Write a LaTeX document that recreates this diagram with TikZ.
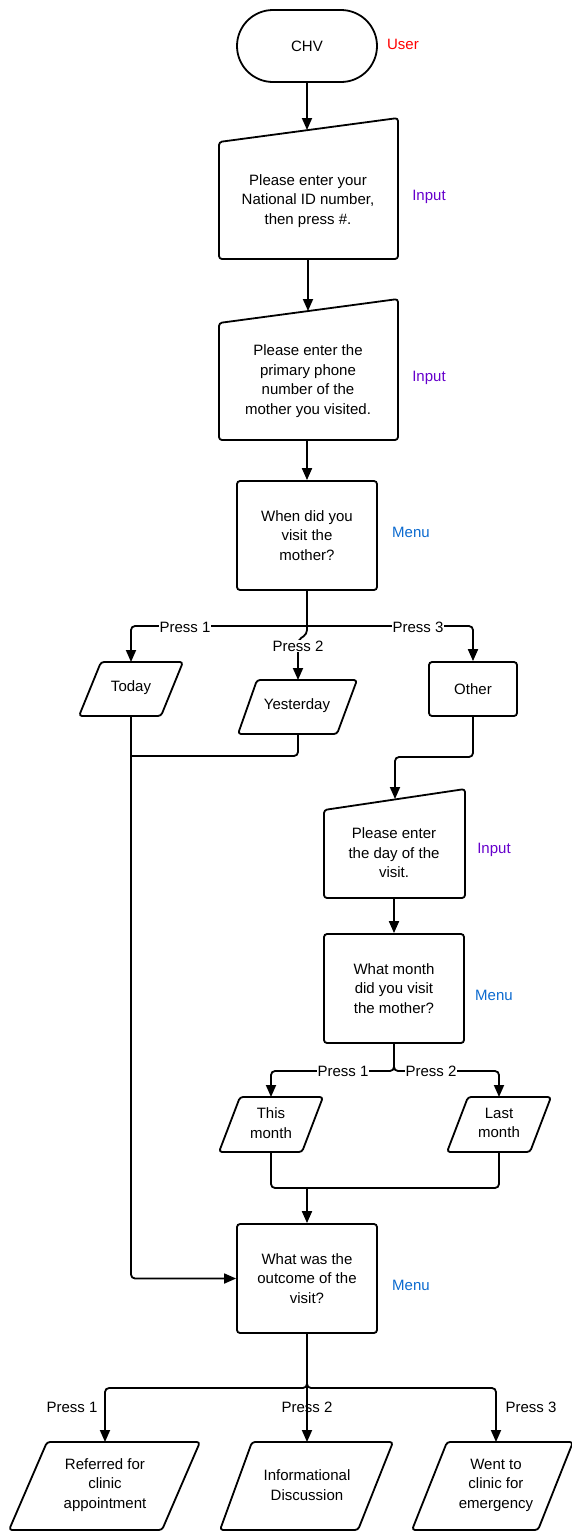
\documentclass[tikz,border=0pt]{standalone}
\usepackage{fontspec}
\setmainfont{Liberation Sans}
\usetikzlibrary{arrows.meta}
\definecolor{userc}{HTML}{FF0000}
\definecolor{inputc}{HTML}{6600CC}
\definecolor{menuc}{HTML}{0B6ACF}
\begin{document}
\begin{tikzpicture}[x=1pt,y=-1pt,
  lbl/.style={font=\fontsize{15}{19.5}\selectfont, align=center, inner sep=1pt},
  shp/.style={draw, line width=1.8pt, rounded corners=3pt, line join=round},
  box/.style={draw, line width=1.8pt, rounded corners=3pt, minimum width=140pt, minimum height=109pt, lbl},
  conn/.style={line width=1.8pt, -{Triangle[length=12pt,width=10pt]}, rounded corners=4pt},
  plain/.style={line width=1.8pt, rounded corners=4pt},
  tag/.style={font=\fontsize{15}{17}\selectfont, fill=white, inner sep=1pt},
  side/.style={font=\fontsize{15}{17}\selectfont, inner sep=1pt},
]
\useasboundingbox (0,0) rectangle (572,1532);

% CHV
\node[draw, line width=1.8pt, rounded corners=36pt, minimum width=140pt, minimum height=72pt, lbl] (chv) at (307,46) {CHV};
\node[side, text=userc] (user) at (403,44) {User};

% Input 1
\draw[shp] (219,142) -- (398,118) -- (398,259) -- (219,259) -- cycle;
\node[lbl] (in1) at (308,201) {Please enter your\\National ID number,\\then press \#.};
\coordinate (in1top) at (307,130);
\coordinate (in1bot) at (308,259);
\node[side, text=inputc] (tin1) at (429,197) {Input};

% Input 2
\draw[shp] (219,323) -- (398,299) -- (398,440) -- (219,440) -- cycle;
\node[lbl] (in2) at (308,381) {Please enter the\\primary phone\\number of the\\mother you visited.};
\coordinate (in2top) at (308,311);
\coordinate (in2bot) at (307,440);
\node[side, text=inputc] (tin2) at (429,378) {Input};

% Menu 1
\node[box] (m1) at (307,535.5) {When did you\\visit the\\mother?};
\node[side, text=menuc] (tm1) at (411,532) {Menu};

% Today / Yesterday / Other
\draw[shp] (101,662) -- (183,662) -- (161,716) -- (79,716) -- cycle;
\node[lbl] (today) at (131,688) {Today};
\coordinate (todaytop) at (131,662);
\coordinate (todaybot) at (131,716);
\draw[shp] (257,680) -- (357,680) -- (337,734) -- (238,734) -- cycle;
\node[lbl] (yest) at (297,706) {Yesterday};
\coordinate (yesttop) at (298,680);
\coordinate (yestbot) at (298,734);
\node[draw, line width=1.8pt, rounded corners=3pt, minimum width=88pt, minimum height=54pt, lbl] (oth) at (473,689) {Other};

% Input 3
\draw[shp] (324,810) -- (465,789) -- (465,898) -- (324,898) -- cycle;
\node[lbl] (in3) at (394,853) {Please enter\\the day of the\\visit.};
\coordinate (in3top) at (395,799);
\coordinate (in3bot) at (394,898);
\node[side, text=inputc] (tin3) at (494,850) {Input};

% Menu 2
\node[box] (m2) at (394,988.5) {What month\\did you visit\\the mother?};
\node[side, text=menuc] (tm2) at (494,995) {Menu};

% This month / Last month
\draw[shp] (240,1097) -- (323,1097) -- (302,1152) -- (219,1152) -- cycle;
\node[lbl] (thism) at (271,1123) {This\\month};
\coordinate (thistop) at (271,1097);
\coordinate (thisbot) at (271,1152);
\draw[shp] (468,1097) -- (551,1097) -- (530,1152) -- (447,1152) -- cycle;
\node[lbl] (lastm) at (499,1123) {Last\\month};
\coordinate (lasttop) at (499,1097);
\coordinate (lastbot) at (499,1152);

% Outcome
\node[box] (out) at (307,1278.5) {What was the\\outcome of the\\visit?};
\node[side, text=menuc] (tm3) at (411,1285) {Menu};

% Bottom outcomes
\draw[shp] (47,1442) -- (200,1442) -- (162,1530) -- (9,1530) -- cycle;
\node[lbl] (ref) at (105,1485) {Referred for\\clinic\\appointment};
\coordinate (reftop) at (105,1442);
\draw[shp] (252,1442) -- (393,1442) -- (358,1530) -- (220,1530) -- cycle;
\node[lbl] (info) at (307,1485) {Informational\\Discussion};
\coordinate (infotop) at (307,1442);
\draw[shp] (447,1442) -- (573,1442) -- (538,1530) -- (412,1530) -- cycle;
\node[lbl] (emer) at (496,1485) {Went to\\clinic for\\emergency};
\coordinate (emertop) at (496,1442);

% Connectors
\draw[conn] (chv.south) -- (in1top);
\draw[conn] (in1bot) -- (in2top);
\draw[conn] (in2bot) -- (m1.north);

\coordinate (j1) at (307,626);
\draw[plain] (m1.south) -- (j1);
\draw[conn] (j1) -| (todaytop);
\draw[conn] (j1) -| (oth.north);
\draw[conn] (j1) -- (307,634) -- (298,640) -- (yesttop);
\node[tag] (p11) at (185,627) {Press 1};
\node[tag] (p13) at (418,627) {Press 3};
\node[tag] (p12) at (298,646) {Press 2};

\draw[conn] (todaybot) |- (out.west);
\draw[plain] (yestbot) |- (131,756);
\draw[conn] (oth.south) |- (395,757) -- (in3top);

\draw[conn] (in3bot) -- (m2.north);
\draw[conn] (m2.south) |- (271,1071) -- (thistop);
\draw[conn] (m2.south) |- (499,1071) -- (lasttop);
\node[tag] (p21) at (343,1071) {Press 1};
\node[tag] (p22) at (431,1071) {Press 2};

\draw[plain] (thisbot) |- (499,1188) -- (lastbot);
\draw[conn] (307,1188) -- (out.north);

\draw[conn] (out.south) |- (105,1388) -- (reftop);
\draw[conn] (out.south) |- (496,1388) -- (emertop);
\draw[conn] (out.south) -- (infotop);
\node[side] (p31) at (72,1407) {Press 1};
\node[side] (p32) at (307,1407) {Press 2};
\node[side] (p33) at (531,1407) {Press 3};
\end{tikzpicture}
\end{document}
